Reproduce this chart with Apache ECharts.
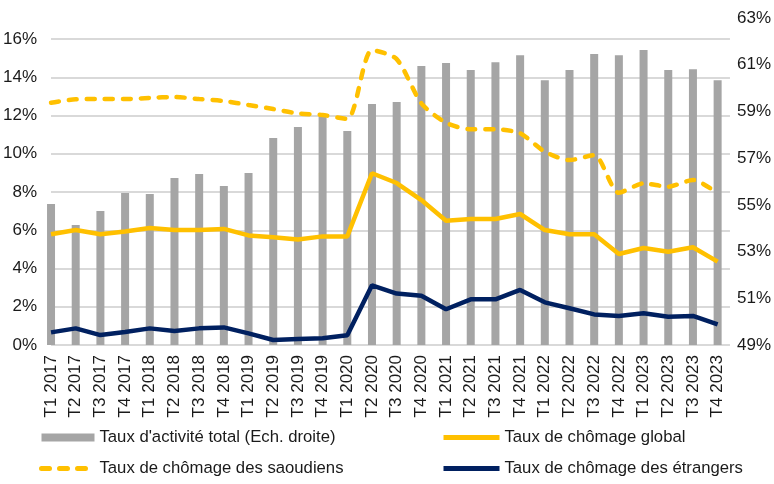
<!DOCTYPE html>
<html>
<head>
<meta charset="utf-8">
<script src="https://cdn.jsdelivr.net/npm/echarts@6/dist/echarts.min.js"></script>
<style>
html,body{margin:0;padding:0;background:#fff;}
#chart{width:774px;height:484px;}
</style>
</head>
<body>
<div id="chart"></div>
<script>
const categories = ['T1 2017','T2 2017','T3 2017','T4 2017','T1 2018','T2 2018','T3 2018','T4 2018',
  'T1 2019','T2 2019','T3 2019','T4 2019','T1 2020','T2 2020','T3 2020','T4 2020',
  'T1 2021','T2 2021','T3 2021','T4 2021','T1 2022','T2 2022','T3 2022','T4 2022',
  'T1 2023','T2 2023','T3 2023','T4 2023'];
// Taux d'activité total (right axis, %)
const activite = [55.04,54.14,54.74,55.51,55.46,56.15,56.32,55.81,56.36,57.86,58.33,58.77,58.16,59.32,59.40,
  60.94,61.07,60.77,61.11,61.41,60.34,60.77,61.46,61.41,61.63,60.77,60.81,60.34];
// Taux de chômage global (left axis, %)
const chomageGlobal = [5.79,6.01,5.79,5.94,6.12,6.01,6.01,6.07,5.73,5.63,5.52,5.68,5.68,8.98,8.47,
  7.58,6.50,6.59,6.59,6.85,6.01,5.79,5.79,4.76,5.07,4.88,5.11,4.36];
// Taux de chômage des saoudiens (left axis, %)
const chomageSaoudiens = [12.67,12.85,12.86,12.86,12.92,12.97,12.86,12.76,12.55,12.34,12.11,12.03,11.82,15.42,14.95,
  12.64,11.62,11.28,11.28,11.07,10.11,9.67,9.93,7.96,8.45,8.28,8.63,7.93];
// Taux de chômage des étrangers (left axis, %)
const chomageEtrangers = [0.66,0.87,0.52,0.68,0.87,0.73,0.87,0.92,0.61,0.26,0.31,0.35,0.51,3.12,2.69,
  2.58,1.87,2.39,2.39,2.88,2.23,1.92,1.60,1.52,1.66,1.48,1.52,1.08];
const seriesNames = ["Taux d'activité total (Ech. droite)", 'Taux de chômage global',
  'Taux de chômage des saoudiens', 'Taux de chômage des étrangers'];

const toPts = arr => arr.map((v, i) => [i, v]);
const font = 'Liberation Sans, Arial, sans-serif';
const txt = '#1a1a1a';
const noSym = {color: 'transparent', borderColor: 'transparent', borderWidth: 0};
const legendText = {fontFamily: font, fontSize: 16.7, color: txt, lineHeight: 17};

const chart = echarts.init(document.getElementById('chart'), null, {renderer: 'canvas'});
chart.setOption({
  animation: false,
  backgroundColor: '#ffffff',
  grid: {left: 45, right: 43, top: 18, bottom: 139, containLabel: false},
  legend: [{
    data: [
      {name: seriesNames[0], icon: 'rect'},
      {name: seriesNames[2], itemStyle: noSym, lineStyle: {width: 5}}
    ],
    orient: 'vertical', left: 39, top: 429, padding: 0, height: 55,
    itemWidth: 53, itemHeight: 8, itemGap: 14, textStyle: legendText
  }, {
    data: [
      {name: seriesNames[1], itemStyle: noSym, lineStyle: {width: 5}},
      {name: seriesNames[3], itemStyle: noSym, lineStyle: {width: 5}}
    ],
    orient: 'vertical', left: 441, top: 429, padding: 0, height: 55,
    itemWidth: 56, itemHeight: 8, itemGap: 14, textStyle: legendText
  }],
  xAxis: {
    type: 'value', min: 0, max: 27.5, interval: 1,
    axisLine: {show: false}, axisTick: {show: false}, splitLine: {show: false},
    axisLabel: {
      rotate: 90, margin: 10, fontFamily: font, fontSize: 17, color: txt,
      showMaxLabel: false,
      formatter: v => Number.isInteger(v) && categories[v] ? categories[v] : ''
    }
  },
  yAxis: [{
    type: 'value', min: 0, max: 17.1, interval: 2, position: 'left',
    axisLine: {show: false}, axisTick: {show: false},
    splitLine: {show: true, showMaxLine: false, lineStyle: {color: '#d9d9d9', width: 2}},
    axisLabel: {
      margin: 14, fontFamily: font, fontSize: 17, color: txt,
      formatter: v => (Math.abs(v % 2) < 1e-6 && v <= 16) ? v + '%' : ''
    }
  }, {
    type: 'value', min: 49, max: 63, interval: 2, position: 'right',
    axisLine: {show: false}, axisTick: {show: false}, splitLine: {show: false},
    axisLabel: {margin: 7, fontFamily: font, fontSize: 17, color: txt, formatter: v => v + '%'}
  }],
  series: [{
    name: seriesNames[0], type: 'bar', yAxisIndex: 1, data: toPts(activite),
    barWidth: 8, itemStyle: {color: '#a5a5a5'}, clip: true, z: 1
  }, {
    name: seriesNames[1], type: 'line', yAxisIndex: 0, data: toPts(chomageGlobal),
    symbol: 'none', lineStyle: {color: '#ffc000', width: 4.5}, itemStyle: {color: '#ffc000'}, z: 3
  }, {
    name: seriesNames[2], type: 'line', yAxisIndex: 0, data: toPts(chomageSaoudiens),
    symbol: 'none', smooth: 0.25,
    lineStyle: {color: '#ffc000', width: 4.5, type: [8, 10], cap: 'round'}, itemStyle: {color: '#ffc000'}, z: 3
  }, {
    name: seriesNames[3], type: 'line', yAxisIndex: 0, data: toPts(chomageEtrangers),
    symbol: 'none', lineStyle: {color: '#002060', width: 4.5}, itemStyle: {color: '#002060'}, z: 3
  }]
});
</script>
</body>
</html>
